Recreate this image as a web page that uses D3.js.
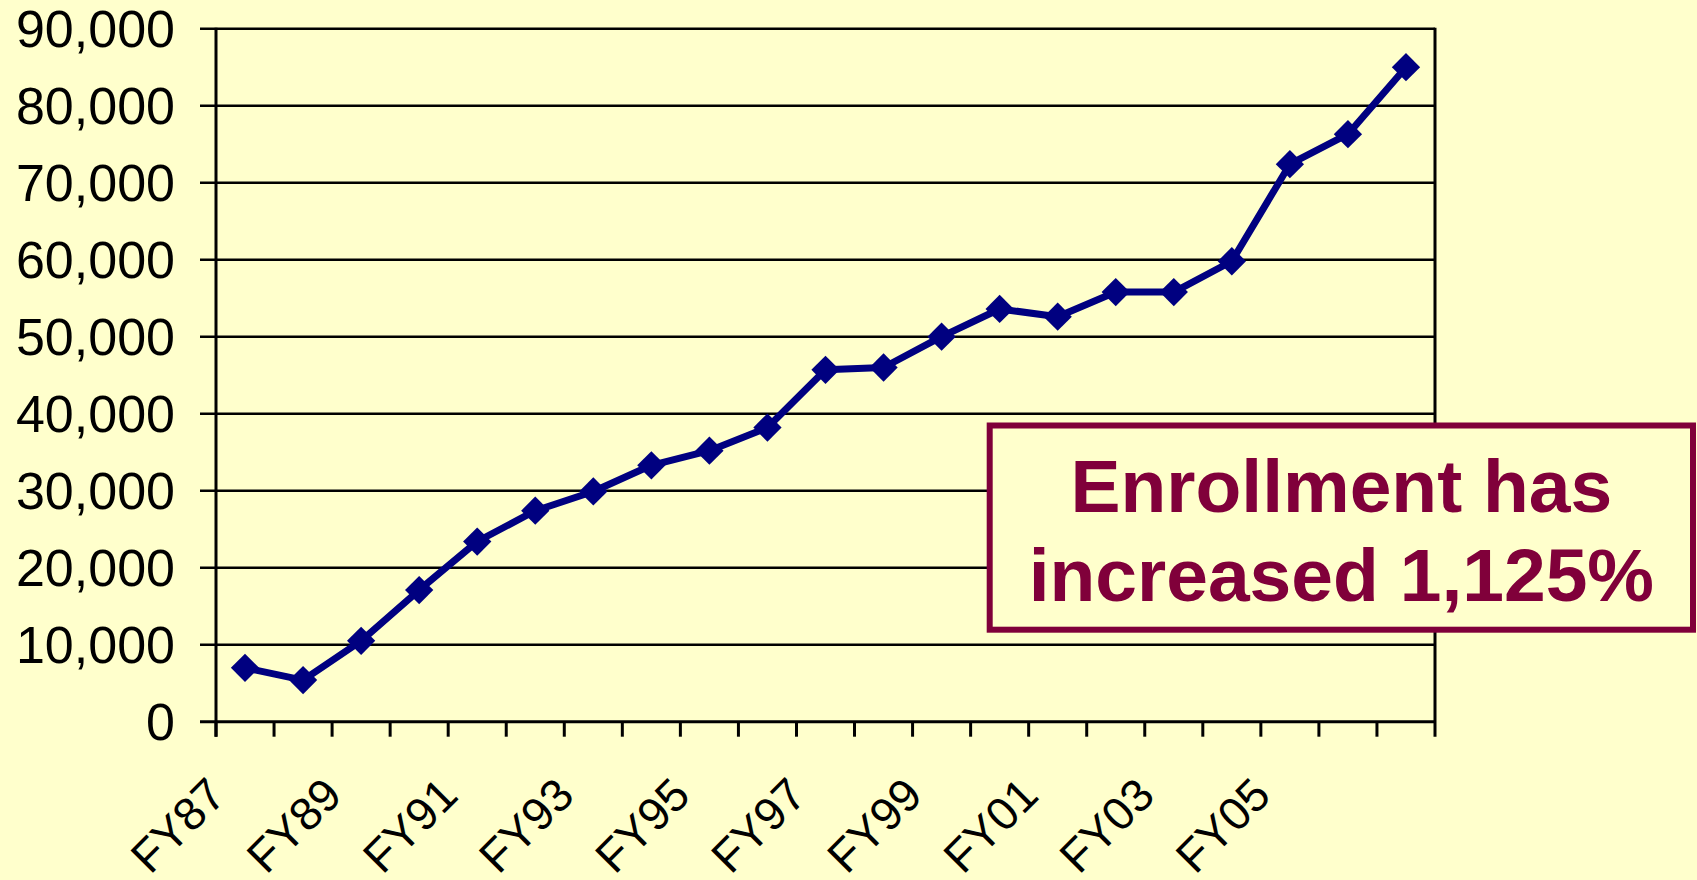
<!DOCTYPE html>
<html>
<head>
<meta charset="utf-8">
<script src="https://cdn.jsdelivr.net/npm/d3@7"></script>
<style>
  html, body { margin: 0; padding: 0; background: #FFFFCC; }
  svg { display: block; }
</style>
</head>
<body>
<svg id="chart" width="1697" height="880"></svg>
<script>
// Enrollment by fiscal year
var years = ['FY87','FY88','FY89','FY90','FY91','FY92','FY93','FY94','FY95','FY96',
             'FY97','FY98','FY99','FY00','FY01','FY02','FY03','FY04','FY05','FY06','FY07'];
var enrollment = [7000, 5400, 10500, 17100, 23400, 27400, 29900, 33300, 35200, 38200,
                  45700, 46000, 50000, 53600, 52600, 55800, 55800, 59800, 72400, 76300, 85000];
var yTicks = [0, 10000, 20000, 30000, 40000, 50000, 60000, 70000, 80000, 90000];
var xLabels = ['FY87','FY89','FY91','FY93','FY95','FY97','FY99','FY01','FY03','FY05'];
var calloutLines = ['Enrollment has', 'increased 1,125%'];

var svg = d3.select('#chart');
var plotLeft = 216, plotRight = 1435, plotTop = 28.7, plotBottom = 721.7;
var font = '"Liberation Sans", Arial, sans-serif';
var maroon = '#80003A';

var x = d3.scaleBand().domain(years).range([plotLeft, plotRight]).padding(0);
var y = d3.scaleLinear().domain([0, 90000]).range([plotBottom, plotTop]);

// gridlines (extend left as tick marks)
svg.append('g').selectAll('line')
    .data(yTicks)
    .enter().append('line')
    .attr('x1', plotLeft - 16).attr('x2', plotRight)
    .attr('y1', function(d) { return y(d); })
    .attr('y2', function(d) { return y(d); })
    .attr('stroke', '#000')
    .attr('stroke-width', function(d) { return d === 0 ? 3 : 2.4; });

// y axis + right border
svg.append('line').attr('x1', plotLeft).attr('x2', plotLeft).attr('y1', plotTop - 1).attr('y2', plotBottom + 15)
    .attr('stroke', '#000').attr('stroke-width', 3);
svg.append('line').attr('x1', plotRight).attr('x2', plotRight).attr('y1', plotTop - 1).attr('y2', plotBottom + 15)
    .attr('stroke', '#000').attr('stroke-width', 3);

// x ticks at category boundaries
var edges = years.map(function(d) { return x(d); });
svg.append('g').selectAll('line')
    .data(edges)
    .enter().append('line')
    .attr('x1', function(d) { return d; }).attr('x2', function(d) { return d; })
    .attr('y1', plotBottom).attr('y2', plotBottom + 15)
    .attr('stroke', '#000').attr('stroke-width', 3);

// y labels
svg.append('g').selectAll('text')
    .data(yTicks)
    .enter().append('text')
    .attr('x', 175)
    .attr('y', function(d) { return y(d) + 18.5; })
    .attr('text-anchor', 'end')
    .attr('font-family', font)
    .attr('font-size', 52)
    .attr('fill', '#000')
    .text(function(d) { return d3.format(',')(d); });

// x labels, rotated
var bw = x.bandwidth();
svg.append('g').selectAll('text')
    .data(xLabels)
    .enter().append('text')
    .attr('transform', function(d) {
        var cx = x(d) + bw / 2 - 17;
        return 'translate(' + cx + ',' + (plotBottom + 76) + ') rotate(-45)';
    })
    .attr('text-anchor', 'end')
    .attr('font-family', font)
    .attr('font-size', 46)
    .attr('fill', '#000')
    .text(function(d) { return d; });

// series line
var line = d3.line()
    .x(function(d, i) { return x(years[i]) + bw / 2; })
    .y(function(d) { return y(d); });

svg.append('path')
    .datum(enrollment)
    .attr('d', line)
    .attr('fill', 'none')
    .attr('stroke', '#000080')
    .attr('stroke-width', 7)
    .attr('stroke-linejoin', 'round');

// diamond markers
var diamond = d3.symbol().type(d3.symbolSquare).size(400);
svg.append('g').selectAll('path')
    .data(enrollment)
    .enter().append('path')
    .attr('d', diamond)
    .attr('transform', function(d, i) {
        return 'translate(' + (x(years[i]) + bw / 2) + ',' + y(d) + ') rotate(45)';
    })
    .attr('fill', '#000080');

// callout box
var box = { x: 989.7, y: 425.5, w: 703.3, h: 204.2 };
svg.append('rect')
    .attr('x', box.x).attr('y', box.y)
    .attr('width', box.w).attr('height', box.h)
    .attr('fill', '#FFFFCC')
    .attr('stroke', maroon)
    .attr('stroke-width', 6);

svg.append('g').selectAll('text')
    .data(calloutLines)
    .enter().append('text')
    .attr('x', box.x + box.w / 2)
    .attr('y', function(d, i) { return 511.7 + i * 89; })
    .attr('text-anchor', 'middle')
    .attr('font-family', font)
    .attr('font-weight', 'bold')
    .attr('font-size', 75)
    .attr('fill', maroon)
    .text(function(d) { return d; });
</script>
</body>
</html>
